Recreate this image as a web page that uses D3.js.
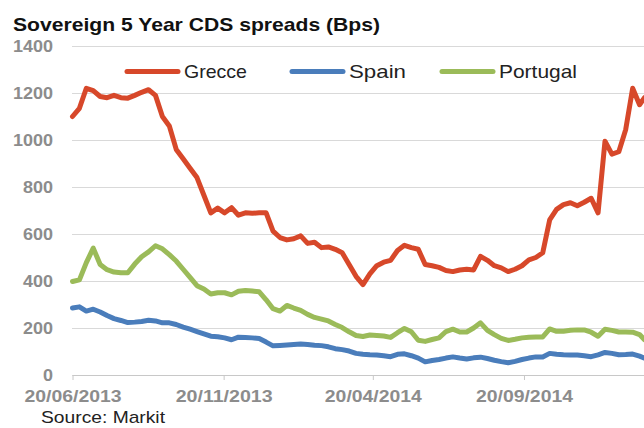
<!DOCTYPE html>
<html>
<head>
<meta charset="utf-8">
<script src="https://cdn.jsdelivr.net/npm/d3@7"></script>
<style>
  body { margin: 0; background: #fff; }
  text { font-family: "Liberation Sans", Arial, sans-serif; }
</style>
</head>
<body>
<div id="canvas"></div>
<script>
// weekly readings
const dates = [
  "2013-06-20", "2013-06-27", "2013-07-04", "2013-07-11", "2013-07-18", "2013-07-25",
  "2013-08-01", "2013-08-08", "2013-08-15", "2013-08-22", "2013-08-29", "2013-09-05",
  "2013-09-12", "2013-09-19", "2013-09-26", "2013-10-03", "2013-10-10", "2013-10-17",
  "2013-10-24", "2013-10-31", "2013-11-07", "2013-11-14", "2013-11-21", "2013-11-28",
  "2013-12-05", "2013-12-12", "2013-12-19", "2013-12-26", "2014-01-02", "2014-01-09",
  "2014-01-16", "2014-01-23", "2014-01-30", "2014-02-06", "2014-02-13", "2014-02-20",
  "2014-02-27", "2014-03-06", "2014-03-13", "2014-03-20", "2014-03-27", "2014-04-03",
  "2014-04-10", "2014-04-17", "2014-04-24", "2014-05-01", "2014-05-08", "2014-05-15",
  "2014-05-22", "2014-05-29", "2014-06-05", "2014-06-12", "2014-06-19", "2014-06-26",
  "2014-07-03", "2014-07-10", "2014-07-17", "2014-07-24", "2014-07-31", "2014-08-07",
  "2014-08-14", "2014-08-21", "2014-08-28", "2014-09-04", "2014-09-11", "2014-09-18",
  "2014-09-25", "2014-10-02", "2014-10-09", "2014-10-16", "2014-10-23", "2014-10-30",
  "2014-11-06", "2014-11-13", "2014-11-20", "2014-11-27", "2014-12-04", "2014-12-11",
  "2014-12-18", "2014-12-25", "2015-01-01", "2015-01-08", "2015-01-15", "2015-01-20"
];

const greece = [
  1100, 1135, 1220, 1210, 1185, 1180, 1190, 1180, 1178, 1190, 1203, 1214,
  1190, 1100, 1060, 960, 920, 880, 840, 765, 690, 710, 690, 712,
  680, 690, 688, 690, 690, 612, 585, 575, 580, 592, 560, 565,
  542, 545, 535, 520, 470, 420, 385, 430, 465, 480, 488, 530,
  552, 542, 535, 470, 465, 458, 445, 440, 447, 450, 447, 505,
  488, 465, 456, 440, 450, 465, 490, 500, 520, 660, 705, 725,
  733, 720, 735, 752, 690, 995, 940, 950, 1045, 1220, 1150, 1180
];

const spain = [
  285, 290, 272, 280, 268, 253, 240, 232, 223, 225, 228, 233,
  230, 222, 222, 215, 204, 195, 185, 175, 165, 163, 158, 150,
  161, 160, 158, 155, 140, 124, 126, 128, 130, 132, 130, 127,
  125, 120, 112, 108, 102, 92, 88, 86, 85, 82, 78, 88,
  90, 82, 72, 56, 62, 66, 72, 77, 72, 68, 73, 76,
  70, 63, 57, 52, 58, 66, 72, 77, 77, 92, 88, 86,
  85, 85, 82, 78, 86, 96, 92, 86, 87, 89, 80, 72
];

const portugal = [
  398, 405, 478, 540, 470, 448, 438, 435, 435, 472, 503, 524,
  550, 537, 512, 485, 450, 415, 380, 366, 345, 350, 350, 341,
  356, 360, 357, 354, 320, 282, 272, 296, 285, 275, 258, 245,
  238, 230, 215, 202, 184, 168, 164, 170, 168, 166, 160, 180,
  198, 184, 148, 143, 151, 158, 185, 195, 183, 183, 200, 222,
  190, 172, 156, 147, 152, 158, 161, 162, 162, 196, 186, 186,
  190, 192, 192, 182, 165, 195, 190, 183, 183, 182, 172, 150
];

const seriesNames = ["Grecce", "Spain", "Portugal"];
const yTicks = [0, 200, 400, 600, 800, 1000, 1200, 1400];
const xTicks = ["2013-06-20", "2013-11-20", "2014-04-20", "2014-09-20"];

const parse = d3.timeParse("%Y-%m-%d");
const colors = ["#d7482a", "#4a7dbb", "#9bbb59"];
const values = [greece, spain, portugal];

const width = 644;
const height = 428;

const svg = d3.select("#canvas").append("svg")
  .attr("width", width)
  .attr("height", height);

const x = d3.scaleTime()
  .domain([parse(dates[0]), parse(dates[dates.length - 1])])
  .range([72.5, 644.5]);

const y = d3.scaleLinear().domain([0, 1400]).range([375, 46]);

// title
svg.append("text")
  .attr("x", 13)
  .attr("y", 30.5)
  .attr("textLength", 367)
  .attr("lengthAdjust", "spacingAndGlyphs")
  .style("font-size", "19px")
  .style("font-weight", "bold")
  .style("fill", "#111")
  .text("Sovereign 5 Year CDS spreads (Bps)");

// gridlines + y labels
const yAxis = svg.append("g")
  .attr("transform", "translate(72,0)")
  .call(d3.axisLeft(y).tickValues(yTicks).tickSize(-(width - 72)).tickPadding(19).tickFormat(d3.format("d")));

yAxis.select(".domain").remove();
yAxis.selectAll(".tick line").attr("stroke", "#d9d9d9").attr("stroke-width", 1.2);
yAxis.selectAll(".tick text")
  .attr("textLength", (d) => String(d).length * 10)
  .attr("lengthAdjust", "spacingAndGlyphs")
  .style("font-size", "17px")
  .style("font-weight", "bold")
  .style("fill", "#8c8c8c");

// x axis
const xAxis = svg.append("g")
  .attr("transform", "translate(0,375)")
  .call(d3.axisBottom(x)
    .tickValues(xTicks.map(parse))
    .tickSize(5)
    .tickSizeOuter(0)
    .tickPadding(11)
    .tickFormat(d3.timeFormat("%d/%m/%Y")));

xAxis.select(".domain").attr("stroke", "#c8c8c8").attr("stroke-width", 1.2);
xAxis.selectAll(".tick line").attr("stroke", "#c8c8c8");
xAxis.selectAll(".tick text")
  .attr("textLength", 97)
  .attr("lengthAdjust", "spacingAndGlyphs")
  .style("font-size", "16px")
  .style("font-weight", "bold")
  .style("fill", "#8c8c8c");

// lines
const line = d3.line()
  .x((d) => x(d.date))
  .y((d) => y(d.v));

values.forEach((vals, i) => {
  const pts = dates.map((d, j) => ({ date: parse(d), v: vals[j] }));
  svg.append("path")
    .datum(pts)
    .attr("fill", "none")
    .attr("stroke", colors[i])
    .attr("stroke-width", 5)
    .attr("stroke-linejoin", "round")
    .attr("stroke-linecap", "round")
    .attr("d", line);
});

// legend
const legendX = [125, 290, 440];
const legendW = [63, 57, 78];
const legend = svg.append("g");

seriesNames.forEach((name, i) => {
  legend.append("line")
    .attr("x1", legendX[i] + 2)
    .attr("x2", legendX[i] + 53)
    .attr("y1", 71.5)
    .attr("y2", 71.5)
    .attr("stroke", colors[i])
    .attr("stroke-width", 5)
    .attr("stroke-linecap", "round");
  legend.append("text")
    .attr("x", legendX[i] + 59)
    .attr("y", 78)
    .attr("textLength", legendW[i])
    .attr("lengthAdjust", "spacingAndGlyphs")
    .style("font-size", "19px")
    .style("fill", "#222")
    .text(name);
});

// source note
svg.append("text")
  .attr("x", 41)
  .attr("y", 423)
  .attr("textLength", 124)
  .attr("lengthAdjust", "spacingAndGlyphs")
  .style("font-size", "17px")
  .style("fill", "#222")
  .text("Source: Markit");
</script>
</body>
</html>
